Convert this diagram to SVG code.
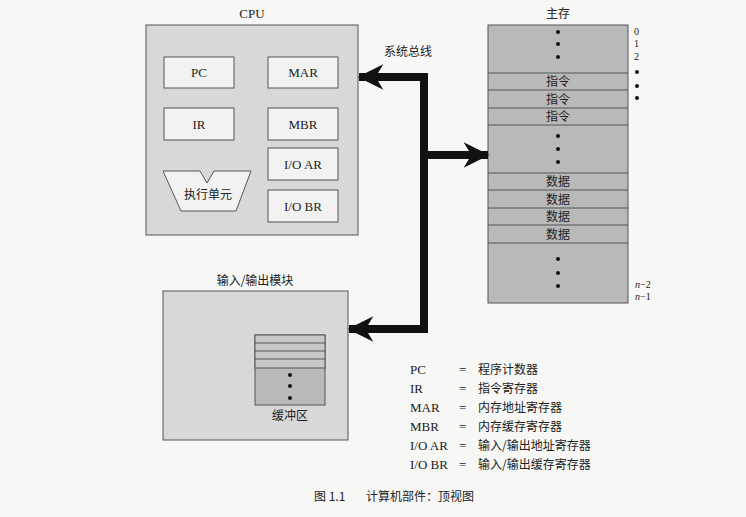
<svg xmlns="http://www.w3.org/2000/svg" width="746" height="517" viewBox="0 0 746 517">
<style>
.t{font-family:"Liberation Serif","Noto Sans CJK SC",serif;font-size:13px;fill:#222}
.c{font-family:"Noto Sans CJK SC",sans-serif;font-size:12px;fill:#222}
.box{fill:#d8d8d8;stroke:#555;stroke-width:1}
.reg{fill:#f2f2f2;stroke:#555;stroke-width:1}
.mem{fill:#b9b9b9;stroke:#555;stroke-width:1}
.ln{stroke:#555;stroke-width:1}
.bus{fill:none;stroke:#111;stroke-width:8}
</style>
<defs>
<marker id="ah" viewBox="0 0 10 10" refX="9.5" refY="5" markerWidth="3.4" markerHeight="3.2" orient="auto" markerUnits="strokeWidth"><path d="M0,0 L10,5 L0,10 L3,5 Z" fill="#111"/></marker>
</defs>
<rect width="746" height="517" fill="#f7f7f5"/>
<g id="cpu">
<text class="t" x="252" y="18" text-anchor="middle">CPU</text>
<rect class="box" x="146" y="25" width="212" height="210"/>
<rect class="reg" x="164" y="57" width="70" height="31"/><text class="t" x="199" y="77" text-anchor="middle">PC</text>
<rect class="reg" x="268" y="57" width="70" height="31"/><text class="t" x="303" y="77" text-anchor="middle">MAR</text>
<rect class="reg" x="164" y="108" width="70" height="32"/><text class="t" x="199" y="129" text-anchor="middle">IR</text>
<rect class="reg" x="268" y="108" width="70" height="32"/><text class="t" x="303" y="129" text-anchor="middle">MBR</text>
<rect class="reg" x="268" y="148" width="70" height="32"/><text class="t" x="303" y="169" text-anchor="middle">I/O AR</text>
<rect class="reg" x="268" y="190" width="70" height="32"/><text class="t" x="303" y="211" text-anchor="middle">I/O BR</text>
<path class="reg" d="M163,171 L200,171 L207,183 L214,171 L251,171 L236,211 L181,211 Z"/>
<text class="c" x="208" y="199" text-anchor="middle">执行单元</text>
</g>
<g id="memory">
<text class="c" x="558" y="18" text-anchor="middle">主存</text>
<rect class="mem" x="488" y="25" width="140" height="278"/>
<g class="ln"><line x1="488" y1="73" x2="628" y2="73"/><line x1="488" y1="90" x2="628" y2="90"/><line x1="488" y1="108" x2="628" y2="108"/><line x1="488" y1="125" x2="628" y2="125"/><line x1="488" y1="173" x2="628" y2="173"/><line x1="488" y1="190" x2="628" y2="190"/><line x1="488" y1="208" x2="628" y2="208"/><line x1="488" y1="225" x2="628" y2="225"/><line x1="488" y1="243" x2="628" y2="243"/></g>
<g fill="#111"><circle cx="558" cy="32" r="2"/><circle cx="558" cy="44" r="2"/><circle cx="558" cy="57" r="2"/><circle cx="558" cy="136" r="2"/><circle cx="558" cy="149" r="2"/><circle cx="558" cy="162" r="2"/><circle cx="558" cy="259" r="2"/><circle cx="558" cy="273" r="2"/><circle cx="558" cy="286" r="2"/><circle cx="637" cy="72" r="2"/><circle cx="637" cy="86" r="2"/><circle cx="637" cy="98" r="2"/></g>
<text class="c" x="558" y="86" text-anchor="middle">指令</text>
<text class="c" x="558" y="104" text-anchor="middle">指令</text>
<text class="c" x="558" y="121" text-anchor="middle">指令</text>
<text class="c" x="558" y="186" text-anchor="middle">数据</text>
<text class="c" x="558" y="204" text-anchor="middle">数据</text>
<text class="c" x="558" y="221" text-anchor="middle">数据</text>
<text class="c" x="558" y="239" text-anchor="middle">数据</text>
<g class="t" style="font-size:10px"><text x="634" y="35">0</text><text x="634" y="47">1</text><text x="634" y="60">2</text><text x="635" y="288" font-style="italic">n<tspan font-style="normal">−2</tspan></text><text x="635" y="300" font-style="italic">n<tspan font-style="normal">−1</tspan></text></g>
</g>
<g id="io">
<text class="c" x="255" y="285" text-anchor="middle">输入/输出模块</text>
<rect class="box" x="163" y="291" width="185" height="149"/>
<rect class="mem" x="255" y="335" width="70" height="70"/>
<rect x="255" y="335" width="70" height="33" fill="#c8c8c8" stroke="#555"/>
<g class="ln"><line x1="255" y1="343" x2="325" y2="343"/><line x1="255" y1="351" x2="325" y2="351"/><line x1="255" y1="359" x2="325" y2="359"/></g>
<g fill="#111"><circle cx="290" cy="375" r="2"/><circle cx="290" cy="386" r="2"/><circle cx="290" cy="398" r="2"/></g>
<text class="c" x="290" y="420" text-anchor="middle">缓冲区</text>
</g>
<g id="connectors">
<text class="c" x="408" y="56" text-anchor="middle">系统总线</text>
<path class="bus" d="M424,333 L424,77 L359,77" marker-end="url(#ah)"/>
<path class="bus" d="M424,155 L488,155" marker-end="url(#ah)"/>
<path class="bus" d="M428,329 L349,329" marker-end="url(#ah)"/>
</g>
<g id="legend" class="t">
<text x="410" y="374">PC</text><text x="459" y="374">=</text><text class="c" x="478" y="374">程序计数器</text>
<text x="410" y="393">IR</text><text x="459" y="393">=</text><text class="c" x="478" y="393">指令寄存器</text>
<text x="410" y="412">MAR</text><text x="459" y="412">=</text><text class="c" x="478" y="412">内存地址寄存器</text>
<text x="410" y="431">MBR</text><text x="459" y="431">=</text><text class="c" x="478" y="431">内存缓存寄存器</text>
<text x="410" y="450">I/O AR</text><text x="459" y="450">=</text><text class="c" x="478" y="450">输入/输出地址寄存器</text>
<text x="410" y="469">I/O BR</text><text x="459" y="469">=</text><text class="c" x="478" y="469">输入/输出缓存寄存器</text>
</g>
<text class="c" x="314" y="501" font-size="13">图 1.1</text>
<text class="c" x="366" y="501" font-size="13">计算机部件：顶视图</text>
</svg>
